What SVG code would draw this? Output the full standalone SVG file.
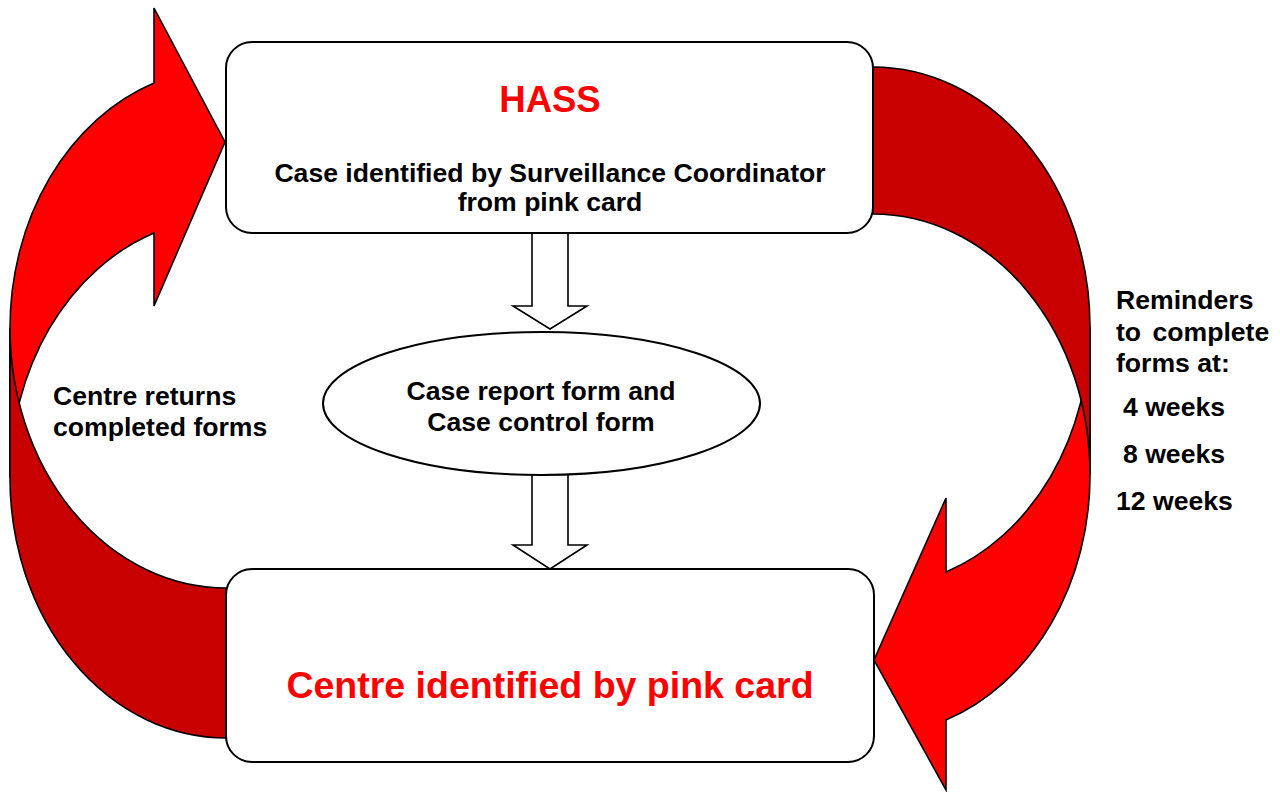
<svg xmlns="http://www.w3.org/2000/svg" width="1280" height="792" viewBox="0 0 1280 792">
<style>
  .bright { fill: #FF0000; stroke: #000; stroke-width: 1.6; stroke-linejoin: miter; }
  .dark { fill: #C80000; stroke: #000; stroke-width: 1.6; }
  .box { fill: #FFFFFF; stroke: #000; stroke-width: 2; }
  .blk { fill: #FFFFFF; stroke: #000; stroke-width: 1.6; }
  text { font-family: "Liberation Sans", Arial, sans-serif; font-weight: bold; }
  .lbl { font-size: 26.6px; fill: #000; }
  .red { fill: #FF0000; }
</style>
<rect width="1280" height="792" fill="#FFFFFF"/>
<g id="connectors">
  <g id="return-arrow">
    <path class="bright" d="M 10,478 A 216 260 0 0 1 154,233 L 154,306 L 225,142 L 154,8 L 154,83 A 216 260 0 0 0 10,328 Z"/>
    <path class="dark" d="M 10,328 A 216 260 0 0 0 226,588 L 226,738 A 216 260 0 0 1 10,478 Z"/>
  </g>
  <g id="reminder-arrow">
    <path class="bright" d="M 1090,327 A 217 260 0 0 1 946,572 L 946,498 L 874,660 L 946,790 L 946,720 A 217 260 0 0 0 1090,474 Z"/>
    <path class="dark" d="M 873,67 A 217 260 0 0 1 1090,327 L 1090,474 A 217 260 0 0 0 873,214 Z"/>
  </g>
  <path id="down1" class="blk" d="M 532,233 L 568,233 L 568,306 L 587,306 L 550,329 L 513,306 L 532,306 Z"/>
  <path id="down2" class="blk" d="M 532,474 L 568,474 L 568,545 L 587,545 L 550,569 L 513,545 L 532,545 Z"/>
</g>
<g id="hass">
  <rect class="box" x="226" y="42" width="647" height="191" rx="26" ry="26"/>
  <text x="550" y="112" text-anchor="middle" font-size="36.5" class="red">HASS</text>
  <text x="550" y="182" text-anchor="middle" class="lbl">Case identified by Surveillance Coordinator</text>
  <text x="550" y="211" text-anchor="middle" class="lbl">from pink card</text>
</g>
<g id="forms">
  <ellipse class="box" cx="541.5" cy="403.5" rx="218.5" ry="71.5"/>
  <text x="541" y="400" text-anchor="middle" class="lbl">Case report form and</text>
  <text x="541" y="431" text-anchor="middle" class="lbl">Case control form</text>
</g>
<g id="centre">
  <rect class="box" x="226" y="569" width="648" height="193" rx="26" ry="26"/>
  <text x="550" y="698" text-anchor="middle" font-size="37.5" class="red">Centre identified by pink card</text>
</g>
<g id="returns-label">
  <text x="53" y="405" class="lbl">Centre returns</text>
  <text x="53" y="436" class="lbl">completed forms</text>
</g>
<g id="reminders-label">
  <text x="1116" y="309" class="lbl">Reminders</text>
  <text x="1116" y="341" class="lbl" word-spacing="4">to complete</text>
  <text x="1116" y="372" class="lbl">forms at:</text>
  <text x="1123" y="416" class="lbl">4 weeks</text>
  <text x="1123" y="463" class="lbl">8 weeks</text>
  <text x="1116" y="510" class="lbl">12 weeks</text>
</g>
</svg>
